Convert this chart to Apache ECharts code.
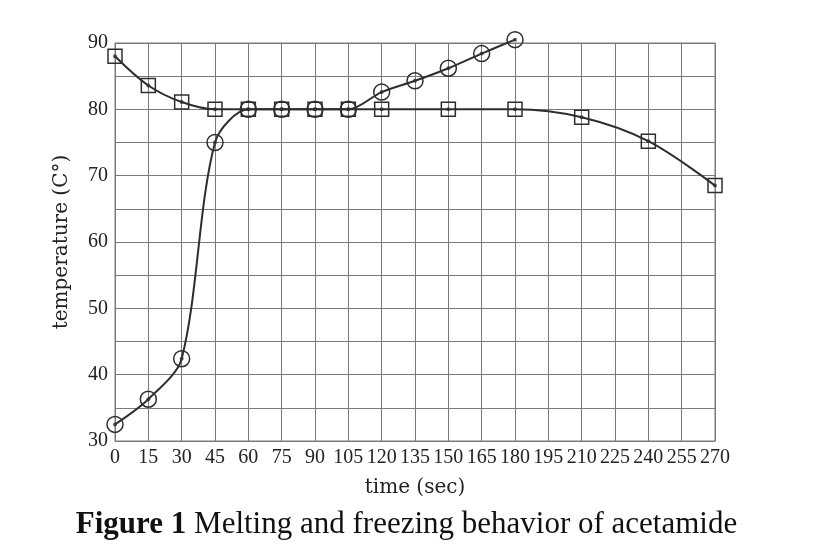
<!DOCTYPE html>
<html>
<head>
<meta charset="UTF-8">
<title>Melting and freezing of acetamide</title>
<script src="https://cdn.jsdelivr.net/npm/echarts@6/dist/echarts.min.js"></script>
<style>
    html, body { margin: 0; padding: 0; background: #fff; }
    #chart { width: 813px; height: 557px; }
</style>
</head>
<body>
<div id="chart"></div>
<script type="text/javascript">
    // melting curve (circles)
    let meltTime = [0, 15, 30, 45, 60, 75, 90, 105, 120, 135, 150, 165, 180];
    let meltTemp = [32.5, 36.3, 42.4, 75, 80, 80, 80, 80, 82.6, 84.3, 86.2, 88.4, 90.5];
    // freezing curve (squares)
    let freezeTime = [0, 15, 30, 45, 60, 75, 90, 105, 120, 150, 180, 210, 240, 270];
    let freezeTemp = [88, 83.6, 81.1, 80, 80, 80, 80, 80, 80, 80, 80, 78.8, 75.2, 68.5];

    let xTicks = {min: 0, max: 270, step: 15};
    let yTicks = {min: 30, max: 90, step: 10};

    function pairs(xs, ys) {
        let out = [];
        for (let i = 0; i < xs.length; i++) {
            out.push([xs[i], ys[i]]);
        }
        return out;
    }

    let chart = echarts.init(document.getElementById('chart'));
    let serif = '"Liberation Serif", "DejaVu Serif", serif';
    let slab = '"DejaVu Serif", serif';
    let gridColor = '#7a7a7a';
    let ink = '#2e2e2e';

    // the marker outline, with the line showing through
    let hollow = {color: 'rgba(0,0,0,0)', borderColor: ink, borderWidth: 1.5};

    let option = {
        backgroundColor: '#fff',
        animation: false,
        title: {
            text: '{b|Figure 1} Melting and freezing behavior of acetamide',
            left: 'center',
            top: 504,
            textStyle: {
                fontFamily: serif,
                fontSize: 31,
                fontWeight: 'normal',
                color: '#111',
                rich: {
                    b: {fontFamily: serif, fontSize: 31, fontWeight: 'bold', color: '#111'}
                }
            }
        },
        grid: {
            left: 115,
            right: 98,
            top: 43,
            bottom: 116,
            show: true,
            borderColor: gridColor,
            borderWidth: 1
        },
        xAxis: {
            type: 'value',
            min: xTicks.min,
            max: xTicks.max,
            interval: xTicks.step,
            name: 'time (sec)',
            nameLocation: 'middle',
            nameGap: 37,
            nameTextStyle: {fontFamily: slab, fontSize: 20, color: '#222'},
            axisLine: {show: true, lineStyle: {color: gridColor}},
            axisTick: {show: false},
            axisLabel: {fontFamily: serif, fontSize: 20, color: '#222', margin: 7},
            splitLine: {show: true, lineStyle: {color: gridColor, width: 1}}
        },
        yAxis: {
            type: 'value',
            min: yTicks.min,
            max: yTicks.max,
            interval: yTicks.step,
            name: 'temperature (C°)',
            nameLocation: 'middle',
            nameGap: 43,
            nameTextStyle: {fontFamily: slab, fontSize: 20, color: '#222'},
            axisLine: {show: true, lineStyle: {color: gridColor}},
            axisTick: {show: false},
            axisLabel: {fontFamily: serif, fontSize: 20, color: '#222', margin: 7},
            splitLine: {show: true, lineStyle: {color: gridColor, width: 1}},
            minorTick: {show: false, splitNumber: 2},
            minorSplitLine: {show: true, lineStyle: {color: gridColor, width: 1}}
        },
        series: [
            {
                name: 'freezing',
                type: 'line',
                smooth: 0.35,
                clip: false,
                symbol: 'rect',
                symbolSize: 14,
                lineStyle: {color: ink, width: 2},
                itemStyle: hollow,
                data: pairs(freezeTime, freezeTemp)
            },
            {
                name: 'melting',
                type: 'line',
                smooth: 0.3,
                clip: false,
                symbol: 'circle',
                symbolSize: 16,
                lineStyle: {color: ink, width: 2},
                itemStyle: hollow,
                data: pairs(meltTime, meltTemp)
            },
            {
                name: 'freezing dots',
                type: 'scatter',
                clip: false,
                symbolSize: 4,
                itemStyle: {color: ink},
                data: pairs(freezeTime, freezeTemp)
            },
            {
                name: 'melting dots',
                type: 'scatter',
                clip: false,
                symbolSize: 4,
                itemStyle: {color: ink},
                data: pairs(meltTime, meltTemp)
            }
        ]
    };

    chart.setOption(option);
</script>
</body>
</html>
